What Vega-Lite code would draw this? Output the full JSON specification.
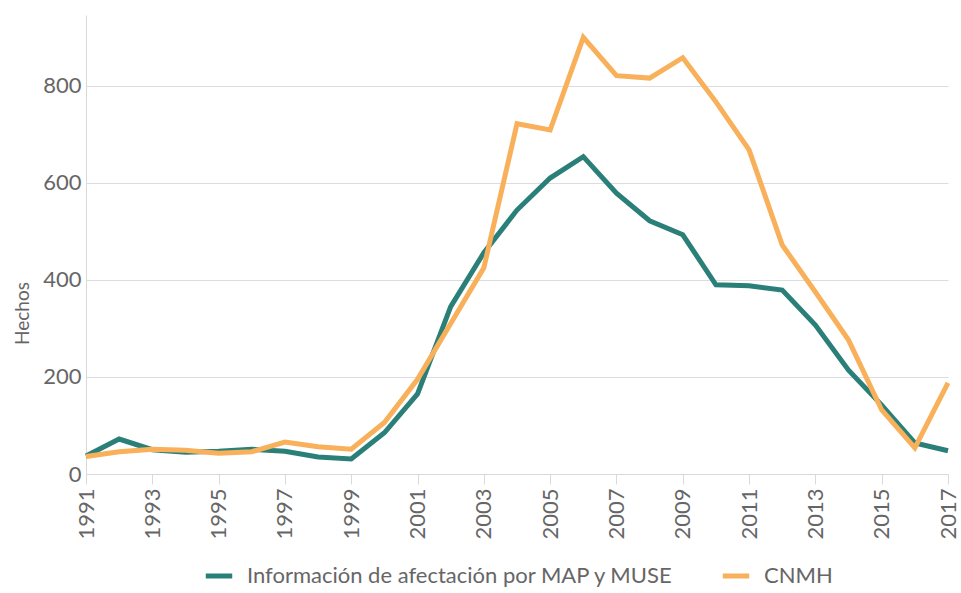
{
  "$schema": "https://vega.github.io/schema/vega-lite/v6.json",
  "width": 862,
  "height": 459,
  "autosize": {"type": "none"},
  "padding": {"left": 86, "top": 15, "right": 13, "bottom": 119},
  "background": "white",
  "config": {
    "view": {"stroke": null},
    "font": "Lato",
    "axis": {"labelColor": "#666666", "titleColor": "#666666", "labelFont": "Lato", "titleFont": "Lato", "domainColor": "#d9d9d9", "tickColor": "#d9d9d9", "gridColor": "#dddddd"},
    "legend": {"labelFont": "Lato", "labelColor": "#666666"}
  },
  "data": {
    "values": [
      {"year": 1991, "serie": "Información de afectación por MAP y MUSE", "value": 37},
      {"year": 1992, "serie": "Información de afectación por MAP y MUSE", "value": 72},
      {"year": 1993, "serie": "Información de afectación por MAP y MUSE", "value": 50},
      {"year": 1994, "serie": "Información de afectación por MAP y MUSE", "value": 45},
      {"year": 1995, "serie": "Información de afectación por MAP y MUSE", "value": 47},
      {"year": 1996, "serie": "Información de afectación por MAP y MUSE", "value": 51},
      {"year": 1997, "serie": "Información de afectación por MAP y MUSE", "value": 47},
      {"year": 1998, "serie": "Información de afectación por MAP y MUSE", "value": 35},
      {"year": 1999, "serie": "Información de afectación por MAP y MUSE", "value": 31},
      {"year": 2000, "serie": "Información de afectación por MAP y MUSE", "value": 85},
      {"year": 2001, "serie": "Información de afectación por MAP y MUSE", "value": 165},
      {"year": 2002, "serie": "Información de afectación por MAP y MUSE", "value": 345},
      {"year": 2003, "serie": "Información de afectación por MAP y MUSE", "value": 456},
      {"year": 2004, "serie": "Información de afectación por MAP y MUSE", "value": 544},
      {"year": 2005, "serie": "Información de afectación por MAP y MUSE", "value": 610},
      {"year": 2006, "serie": "Información de afectación por MAP y MUSE", "value": 654},
      {"year": 2007, "serie": "Información de afectación por MAP y MUSE", "value": 579},
      {"year": 2008, "serie": "Información de afectación por MAP y MUSE", "value": 522},
      {"year": 2009, "serie": "Información de afectación por MAP y MUSE", "value": 493},
      {"year": 2010, "serie": "Información de afectación por MAP y MUSE", "value": 390},
      {"year": 2011, "serie": "Información de afectación por MAP y MUSE", "value": 388},
      {"year": 2012, "serie": "Información de afectación por MAP y MUSE", "value": 379},
      {"year": 2013, "serie": "Información de afectación por MAP y MUSE", "value": 307},
      {"year": 2014, "serie": "Información de afectación por MAP y MUSE", "value": 214},
      {"year": 2015, "serie": "Información de afectación por MAP y MUSE", "value": 142},
      {"year": 2016, "serie": "Información de afectación por MAP y MUSE", "value": 64},
      {"year": 2017, "serie": "Información de afectación por MAP y MUSE", "value": 48},
      {"year": 1991, "serie": "CNMH", "value": 36},
      {"year": 1992, "serie": "CNMH", "value": 46},
      {"year": 1993, "serie": "CNMH", "value": 51},
      {"year": 1994, "serie": "CNMH", "value": 49},
      {"year": 1995, "serie": "CNMH", "value": 43},
      {"year": 1996, "serie": "CNMH", "value": 46},
      {"year": 1997, "serie": "CNMH", "value": 66},
      {"year": 1998, "serie": "CNMH", "value": 56},
      {"year": 1999, "serie": "CNMH", "value": 51},
      {"year": 2000, "serie": "CNMH", "value": 106},
      {"year": 2001, "serie": "CNMH", "value": 195},
      {"year": 2002, "serie": "CNMH", "value": 310},
      {"year": 2003, "serie": "CNMH", "value": 425},
      {"year": 2004, "serie": "CNMH", "value": 722},
      {"year": 2005, "serie": "CNMH", "value": 709},
      {"year": 2006, "serie": "CNMH", "value": 900},
      {"year": 2007, "serie": "CNMH", "value": 821},
      {"year": 2008, "serie": "CNMH", "value": 816},
      {"year": 2009, "serie": "CNMH", "value": 858},
      {"year": 2010, "serie": "CNMH", "value": 767},
      {"year": 2011, "serie": "CNMH", "value": 668},
      {"year": 2012, "serie": "CNMH", "value": 472},
      {"year": 2013, "serie": "CNMH", "value": 375},
      {"year": 2014, "serie": "CNMH", "value": 276},
      {"year": 2015, "serie": "CNMH", "value": 132},
      {"year": 2016, "serie": "CNMH", "value": 54},
      {"year": 2017, "serie": "CNMH", "value": 188}
    ]
  },
  "mark": {"type": "line", "strokeWidth": 5, "strokeJoin": "miter", "clip": false},
  "encoding": {
    "x": {
      "field": "year",
      "type": "quantitative",
      "scale": {"domain": [1991, 2017], "nice": false, "zero": false},
      "axis": {
        "title": null,
        "values": [1991, 1993, 1995, 1997, 1999, 2001, 2003, 2005, 2007, 2009, 2011, 2013, 2015, 2017],
        "format": "d",
        "labelAngle": -90,
        "labelFontSize": 22,
        "labelPadding": 4,
        "tickSize": 10,
        "grid": false,
        "labelFlush": false,
        "labelOverlap": false
      }
    },
    "y": {
      "field": "value",
      "type": "quantitative",
      "scale": {"domain": [0, 946], "nice": false},
      "axis": {
        "title": "Hechos",
        "titleFontSize": 19,
        "titleFontWeight": "normal",
        "titlePadding": 10,
        "titleY": 298,
        "values": [0, 200, 400, 600, 800],
        "labelFontSize": 22,
        "labelPadding": 5,
        "ticks": false,
        "grid": true
      }
    },
    "color": {
      "field": "serie",
      "type": "nominal",
      "sort": ["Información de afectación por MAP y MUSE", "CNMH"],
      "scale": {"domain": ["Información de afectación por MAP y MUSE", "CNMH"], "range": ["#2a8079", "#f8b05a"]},
      "legend": {
        "title": null,
        "orient": "none",
        "direction": "horizontal",
        "legendX": 117,
        "legendY": 545,
        "symbolType": "stroke",
        "symbolStrokeWidth": 5,
        "symbolSize": 700,
        "labelFontSize": 22,
        "labelLimit": 0,
        "labelOffset": 12,
        "columnPadding": 38
      }
    }
  }
}
